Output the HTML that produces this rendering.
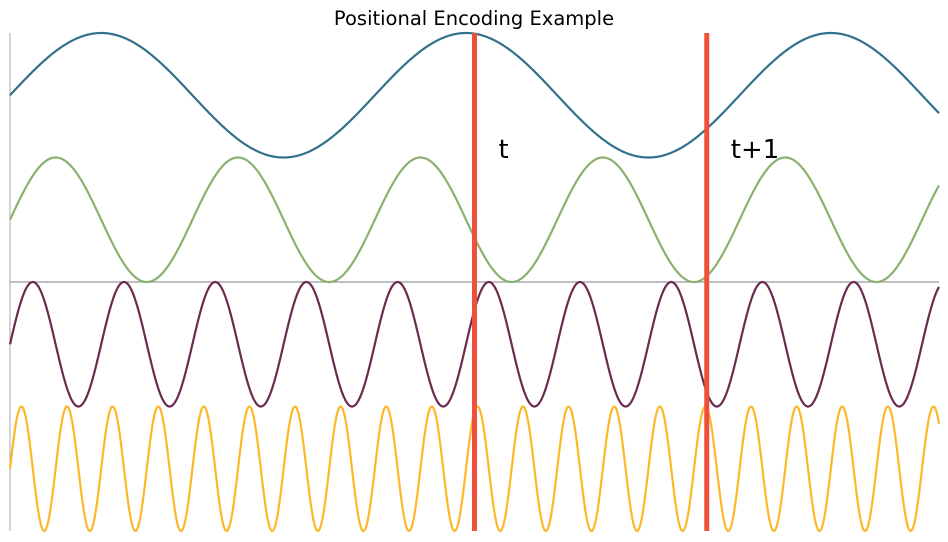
<!DOCTYPE html>
<html><head><meta charset="utf-8"><style>
html,body{margin:0;padding:0;background:#fff;}
svg{display:block;font-family:"DejaVu Sans","Liberation Sans",sans-serif;}
</style></head><body>
<svg id="chart" width="948" height="542"></svg>
<script>
const frequencies = [1, 2, 4, 8];
const offsets = [6, 4, 2, 0];
const seriesNames = ["wave-freq-1", "wave-freq-2", "wave-freq-4", "wave-freq-8"];
const colors = ["#33718b", "#8ab16f", "#6b2a4f", "#fbb829"];
const markers = [8, 12];
const markerLabels = ["t", "t+1"];
const xDomain = [0, 16];
const yDomain = [-1, 7];
const baselineValue = 3;

const L = 10, R = 939, T = 33, B = 531;
const sx = v => L + (v - xDomain[0]) / (xDomain[1] - xDomain[0]) * (R - L);
const sy = v => B - (v - yDomain[0]) / (yDomain[1] - yDomain[0]) * (B - T);
const NS = "http://www.w3.org/2000/svg";
const svg = document.getElementById("chart");
function mk(tag, attrs) { const e = document.createElementNS(NS, tag); for (const k in attrs) e.setAttribute(k, attrs[k]); svg.appendChild(e); return e; }

const title = mk("text", {x: 474, y: 25, "text-anchor": "middle", "font-size": 19.5, fill: "#000"});
title.textContent = "Positional Encoding Example";



const spine = mk("line", {x1: L, y1: T, x2: L, y2: B, stroke: "#aaa", "stroke-width": 1});



const base = mk("line", {x1: L, y1: sy(baselineValue), x2: R, y2: sy(baselineValue), stroke: "#aaa", "stroke-width": 1.5});



frequencies.forEach((f, i) => {
  let d = "";
  const N = 1500;
  for (let j = 0; j <= N; j++) {
    const x = xDomain[0] + (xDomain[1] - xDomain[0]) * j / N;
    const y = offsets[i] + Math.sin(f * x);
    d += (j ? "L" : "M") + sx(x).toFixed(2) + " " + sy(y).toFixed(2);
  }
  const p = mk("path", {d, fill: "none", stroke: colors[i], "stroke-width": 2.2});
  
  
});

markers.forEach((m, i) => {
  const ln = mk("line", {x1: sx(m), y1: T, x2: sx(m), y2: B, stroke: "#f05039", "stroke-width": 5});
  
  
  const tx = mk("text", {x: sx(m) + 24, y: 158, "font-size": 26, fill: "#000"});
  tx.textContent = markerLabels[i];
  
  
});
</script>
</body></html>
